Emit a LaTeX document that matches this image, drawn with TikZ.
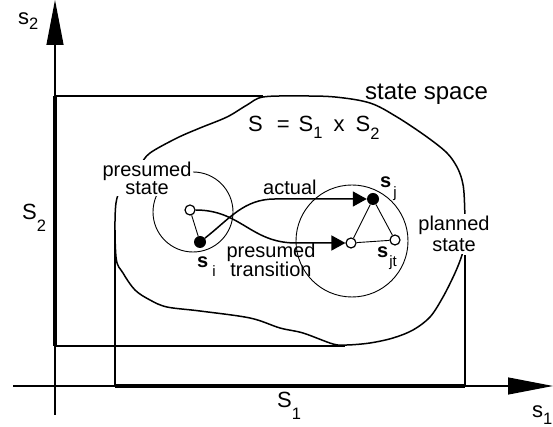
\documentclass[tikz,border=0pt]{standalone}
\usepackage{fontspec}
\setmainfont{Liberation Sans}
\usetikzlibrary{arrows.meta}
\newcommand{\lowsub}[2][6pt]{\raisebox{-#1}{\scalebox{0.75}{#2}}}
\tikzset{
  axis/.style={line width=1.2pt, -{Triangle[length=45pt,width=17pt]}},
  proj/.style={line width=1.2pt},
  thickproj/.style={line width=3.5pt},
  hull/.style={line width=1.5pt},
  zone/.style={line width=0.9pt},
  link/.style={line width=0.9pt},
  flow/.style={line width=1.5pt, -{Triangle[length=14pt,width=15pt]}},
  fullstate/.style={circle, fill=black, inner sep=0pt, minimum size=12pt},
  openstate/.style={circle, draw, fill=white, line width=1.2pt, inner sep=0pt, minimum size=10pt},
  lbl/.style={font=\fontsize{20}{15}\selectfont, inner sep=0pt},
  axlbl/.style={font=\fontsize{22}{22}\selectfont, inner sep=0pt, anchor=base west},
}
\begin{document}
\begin{tikzpicture}[x=1pt, y=1pt]
\useasboundingbox (0,0) rectangle (553,427);
% Projections of the state space
\draw[proj] (55,331) -- (263,331);
\draw[proj] (55,81) -- (345,81);
\draw[proj] (115,41) -- (115,197);
\draw[proj] (465,41) -- (465,172);
\draw[thickproj] (55,81) -- (55,331);
\draw[thickproj] (115,41) -- (465,41);
% Axes
\draw[axis] (55,12) -- (55,427);
\draw[axis] (13,41) -- (553,41);
% State space
\draw[hull] plot[smooth cycle, tension=0.55] coordinates {
  (116,170) (116,224) (127,248) (140,262) (150,274) (177,289) (200,299)
  (227,310) (247,322) (263,330) (300,331) (335,330) (370,324) (397,310)
  (427,290) (447,274) (457,260) (462,247) (464,234) (465,207) (465,187)
  (462,172) (455,154) (443,130) (430,110) (413,97) (393,89) (370,84)
  (347,82) (333,83) (303,94) (280,99) (250,109) (200,116) (167,120)
  (150,127) (135,137) (123,154)};
% Neighbourhoods
\draw[zone] (193,215) circle (40);
\draw[zone] (352,186) circle (56);
% Labels
\node[lbl, fill=white, inner sep=2pt, align=center] (prstate) at (147,249) {presumed\\state};
\node[lbl, fill=white, inner sep=2pt, align=center] (plstate) at (454,193) {planned\\[3pt]state};
\node[axlbl] (s2lbl) at (18,402) {s\lowsub[5pt]{2}};
\node[axlbl] (s1lbl) at (532,9) {s\lowsub[7pt]{1}};
\node[axlbl] (S2lbl) at (22,207) {S\lowsub[12pt]{2}};
\node[axlbl] (S1lbl) at (277,19) {S\lowsub[12pt]{1}};
\node[axlbl] (space) at (365,327) {\fontsize{24}{24}\selectfont state space};
\node[axlbl] (prod) at (248,295) {S\hspace{14pt}=\hspace{9pt}S\lowsub[7pt]{1}\hspace{11pt}x\hspace{11pt}S\lowsub[8pt]{2}};
\node[lbl, anchor=base west] (actual) at (263,232) {actual};
\node[lbl, align=center] (prtrans) at (271,167) {presumed\\[0pt]transition};
% States
\node[fullstate] (si) at (200,185) {};
\node[openstate] (sip) at (190,217) {};
\node[fullstate] (sj) at (373,228) {};
\node[openstate] (sjp) at (351,184) {};
\node[openstate] (sjt) at (395,187) {};
\node[lbl, anchor=base west] (silbl) at (197,159) {\textbf{s}\hspace{4pt}\lowsub[9pt]{i}};
\node[lbl, anchor=base west] (sjlbl) at (380,239) {\textbf{s}\hspace{2pt}\lowsub[10pt]{j}};
\node[lbl, anchor=base west] (sjtlbl) at (377,169) {\textbf{s}\hspace{1pt}\lowsub[9pt]{jt}};
% Transitions
\coordinate (actbend) at (275,228);
\coordinate (presbend) at (296,184);
\draw[link] (si) -- (sip);
\draw[link] (sj) -- (sjp);
\draw[link] (sj) -- (sjt);
\draw[link] (sjp) -- (sjt);
\draw[flow] (si) to[out=38, in=180] (actbend) -- (sj);
\draw[flow] (sip) to[out=0, in=180, looseness=1.1] (presbend) -- (sjp);
\end{tikzpicture}
\end{document}
